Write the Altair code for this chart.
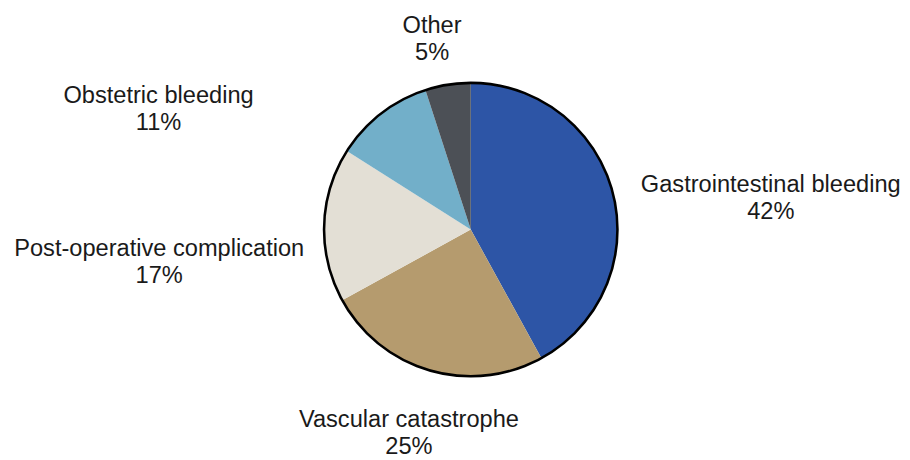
import altair as alt
import pandas as pd

categories = ["Gastrointestinal bleeding", "Vascular catastrophe",
              "Post-operative complication", "Obstetric bleeding", "Other"]
values = [42, 25, 17, 11, 5]
colors = ["#2D55A6", "#B59B6E", "#E3DFD5", "#72AFC9", "#4C5056"]

df = pd.DataFrame({
    "category": categories,
    "value": values,
    "order": list(range(len(categories))),
    "label": [f"{c}\n{v}%" for c, v in zip(categories, values)],
})
total = float(sum(values))
theta_scale = alt.Scale(domain=[0, total])

R = 149
base = alt.Chart(df)

pie = base.mark_arc(outerRadius=R, strokeWidth=0).encode(
    theta=alt.Theta("value:Q", stack=True, scale=theta_scale),
    color=alt.Color("category:N", scale=alt.Scale(domain=categories, range=colors), legend=None),
    order=alt.Order("order:Q"),
)

outline = alt.Chart(pd.DataFrame({"value": [total]})).mark_arc(
    outerRadius=R, fillOpacity=0, stroke="black", strokeWidth=2.6
).encode(theta=alt.Theta("value:Q", stack=True, scale=theta_scale))

# label styling: (radius, dx, dy)
label_style = {
    "Gastrointestinal bleeding": (200, 111, 5),
    "Vascular catastrophe": (200, -7, 1.5),
    "Post-operative complication": (200, -116.5, 26),
    "Obstetric bleeding": (200, -194.5, 22.5),
    "Other": (200, -8, -9.5),
}

labels = []
for cat in categories:
    r, dx, dy = label_style[cat]
    labels.append(
        base.transform_window(
            cum="sum(value)", sort=[alt.SortField("order")], frame=[None, 0]
        ).transform_calculate(
            mid="datum.cum - datum.value / 2"
        ).transform_filter(
            alt.datum.category == cat
        ).mark_text(
            radius=r, dx=dx, dy=dy, lineBreak="\n", lineHeight=27.5,
            fontSize=24, font="Liberation Sans", color="#1a1a1a",
            align="center", baseline="middle",
        ).encode(
            theta=alt.Theta("mid:Q", scale=theta_scale),
            text="label:N",
        )
    )

chart = alt.layer(pie, outline, *labels).properties(
    width=869, height=443,
    padding={"left": 35.5, "top": 0, "right": 3.5, "bottom": 9},
    autosize=alt.AutoSizeParams(type="none"),
).configure_view(stroke=None)

chart.save("out.html", embed_options={"renderer": "svg", "actions": False})
